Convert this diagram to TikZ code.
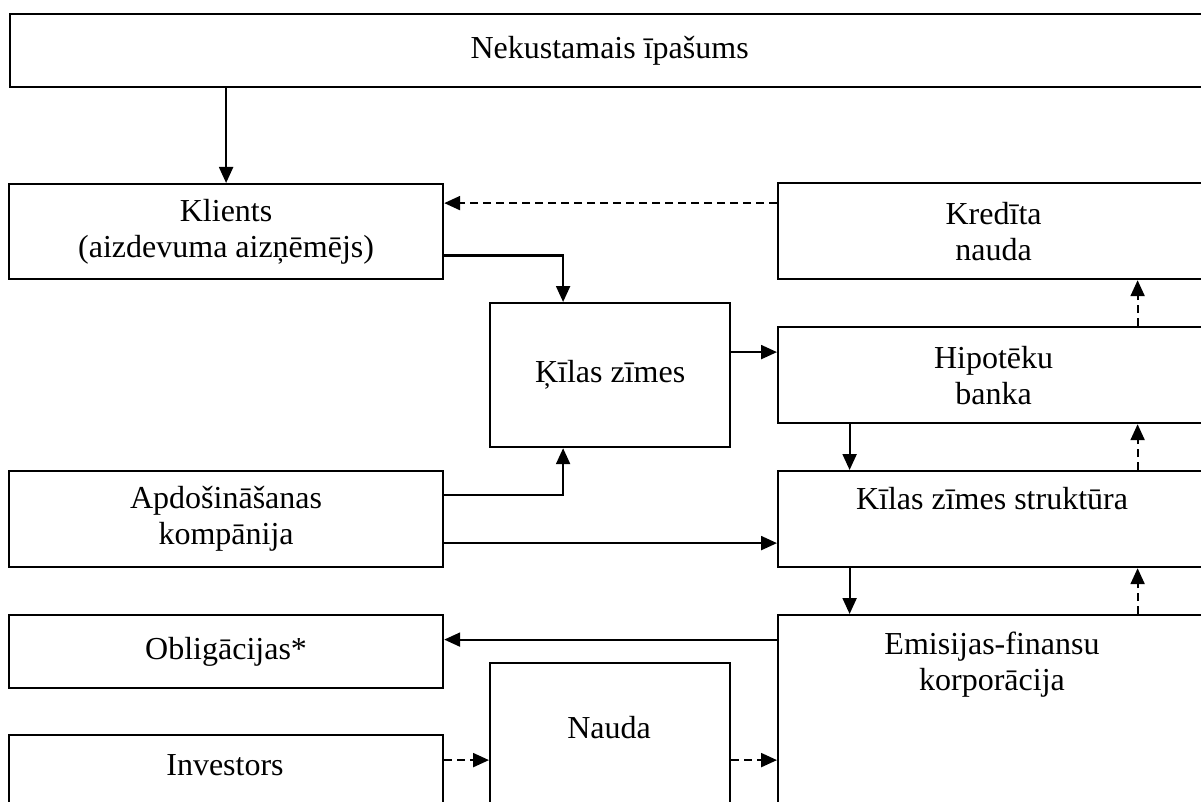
\documentclass[tikz,border=0pt]{standalone}
\usepackage{fontspec}
\setmainfont{Liberation Serif}
\usetikzlibrary{arrows.meta}

\begin{document}
\begin{tikzpicture}[x=1pt,y=-1pt]
  \tikzstyle{every node}=[font=\fontsize{32}{36}\selectfont,inner sep=0pt,align=center]
  \tikzstyle{box}=[draw,line width=2.2pt,anchor=north west]
  \tikzstyle{arr}=[line width=2.2pt,-{Triangle[length=16pt,width=14pt]}]
  \tikzstyle{darr}=[arr,dash pattern=on 8pt off 5pt]
  \useasboundingbox (0,0) rectangle (1201,802);
  \clip (0,0) rectangle (1201,802);
  \node (ip) [box,minimum width=1199pt,minimum height=73pt] at (9,13) {Nekustamais īpašums};
  \node (kl) [box,minimum width=434pt,minimum height=95pt] at (8,183) {Klients\\(aizdevuma aizņēmējs)};
  \node (kr) [box,minimum width=431pt,minimum height=96pt] at (777,182) {Kredīta\\nauda};
  \node (kz) [box,minimum width=240pt,minimum height=144pt] at (489,302) {Ķīlas zīmes};
  \node (hb) [box,minimum width=431pt,minimum height=96pt] at (777,326) {Hipotēku\\banka};
  \node (ak) [box,minimum width=434pt,minimum height=96pt] at (8,470) {Apdošināšanas\\kompānija};
  \node (zs) [box,minimum width=431pt,minimum height=96pt] at (777,470) {};
  \node (zsa) [anchor=base] at (992,509) {Kīlas zīmes struktūra};
  \node (ob) [box,minimum width=434pt,minimum height=73pt] at (8,614) {Obligācijas*};
  \node (ef) [box,minimum width=431pt,minimum height=300pt] at (777,614) {};
  \node (efa) [anchor=base] at (992,654) {Emisijas-finansu};
  \node (efb) [anchor=base] at (992,690) {korporācija};
  \node (na) [box,minimum width=240pt,minimum height=200pt] at (489,662) {};
  \node (naa) [anchor=base] at (609,738) {Nauda};
  \node (in) [box,minimum width=434pt,minimum height=100pt] at (8,734) {};
  \node (ina) [anchor=base] at (225,775) {Investors};
  \coordinate (k1) at ([yshift=28pt]kr.west);
  \coordinate (o1) at ([yshift=12pt]ob.east);
  \coordinate (i1) at ([yshift=25pt]in.east);
  \draw [arr] (kl |- ip.south) -- (kl.north);
  \draw [darr] (k1) -- (k1 -| kl.east);
  \draw [arr] ([yshift=-24pt]kl.east) -| ([xshift=-47pt]kz.north);
  \draw [arr] ([yshift=23pt]kz.east) -- ([yshift=23pt]hb.west);
  \draw [darr] ([xshift=144pt]hb.north) -- ([xshift=144pt]kr.south);
  \draw [arr] ([xshift=-144pt]hb.south) -- ([xshift=-144pt]zs.north);
  \draw [darr] ([xshift=144pt]zs.north) -- ([xshift=144pt]hb.south);
  \draw [arr] ([yshift=24pt]ak.east) -| ([xshift=-47pt]kz.south);
  \draw [arr] ([yshift=-24pt]ak.east) -- ([yshift=-24pt]zs.west);
  \draw [arr] ([xshift=-144pt]zs.south) -- ([xshift=-144pt]ef.north);
  \draw [darr] ([xshift=144pt]ef.north) -- ([xshift=144pt]zs.south);
  \draw [arr] (o1 -| ef.west) -- (o1);
  \draw [darr] (i1) -- (i1 -| na.west);
  \draw [darr] (i1 -| na.east) -- (i1 -| ef.west);
\end{tikzpicture}
\end{document}
